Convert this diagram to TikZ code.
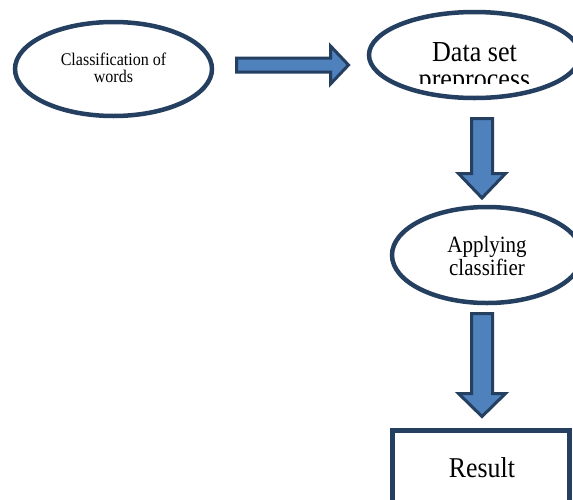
\documentclass[tikz,border=0pt]{standalone}
\usepackage{fontspec}
\setmainfont{Liberation Serif}[FakeStretch=0.9]
\usetikzlibrary{shapes.geometric}
\definecolor{navyline}{HTML}{243F60}
\definecolor{arrowfill}{HTML}{4F81BD}
\begin{document}
\begin{tikzpicture}[x=1pt,y=-1pt,
  ell/.style={draw=navyline, line width=4.5pt, ellipse, inner sep=0pt},
  resbox/.style={draw=navyline, line width=5pt, rectangle, inner sep=0pt},
  lbl/.style={anchor=base, inner sep=0pt, text=black},
  barrow/.style={draw=navyline, fill=arrowfill, line width=3pt, line join=miter, miter limit=10}]
\useasboundingbox (0,0) rectangle (573,499);
\clip (0,0) rectangle (573,499);
\fill[white] (0,0) rectangle (573,499);

% nodes
\node[ell, minimum width=197pt, minimum height=94pt] (cw) at (113.5,69) {};
\node[lbl, font=\fontsize{17.8}{17.5}\selectfont] (cwt) at (113.5,65)
  {\begin{tabular}[t]{@{}c@{}}Classification of\\words\end{tabular}};

\node[ell, minimum width=211pt, minimum height=86pt] (ds) at (474.5,55) {};
\begin{scope}
  \clip (360,0) rectangle (573,83);
  \node[lbl, font=\fontsize{29}{27}\selectfont] (dst) at (474.5,61)
    {\begin{tabular}[t]{@{}c@{}}Data set\\preprocess\end{tabular}};
\end{scope}

\node[ell, minimum width=190pt, minimum height=96pt] (ac) at (487,255) {};
\node[lbl, font=\fontsize{23.3}{22}\selectfont] (act) at (487,252)
  {\begin{tabular}[t]{@{}c@{}}Applying\\classifier\end{tabular}};

\node[resbox, minimum width=177.5pt, minimum height=100pt] (res) at (480.75,480.5) {};
\node[lbl, font=\fontsize{28.7}{28.7}\selectfont] (rest) at (482,477) {Result};

% block arrows
\coordinate (h1) at (236.5,65);
\coordinate (h2) at (348.5,65);
\draw[barrow] (h1) ++(0,-7) -- ++(94,0) -- ++(0,-12) -- (h2) -- ++(-18,19) -- ++(0,-12) -- ++(-94,0) -- cycle;

\coordinate (v1) at (482,118.5);
\coordinate (v2) at (482,198);
\draw[barrow] (v1) ++(-10.5,0) -- ++(21,0) -- ++(0,55) -- ++(13,0) -- (v2) -- ++(-23.5,-24.5) -- ++(13,0) -- cycle;

\coordinate (v3) at (482,313.5);
\coordinate (v4) at (482,416.5);
\draw[barrow] (v3) ++(-10.5,0) -- ++(21,0) -- ++(0,80) -- ++(13,0) -- (v4) -- ++(-23.5,-23) -- ++(13,0) -- cycle;
\end{tikzpicture}
\end{document}
